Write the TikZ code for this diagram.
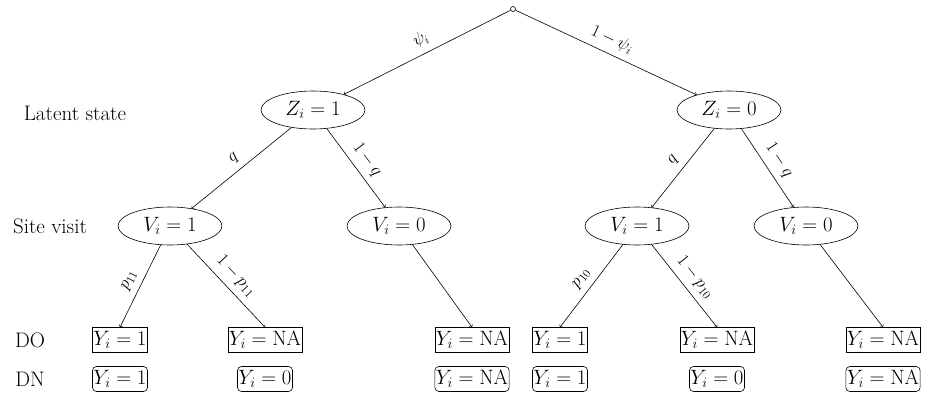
\documentclass[tikz,border=0pt]{standalone}
\usetikzlibrary{shapes.geometric}
\begin{document}
\begin{tikzpicture}[x=1pt,y=-1pt,line width=0.6pt,
  every node/.style={font=\fontsize{21}{24}\selectfont},
  st/.style={draw,ellipse,minimum width=104pt,minimum height=38pt,inner sep=0pt},
  dobox/.style={draw,inner sep=1pt,minimum height=25pt},
  dnbox/.style={draw,rounded corners=4pt,inner sep=1pt,minimum height=25pt},
  ed/.style={->,>=to},
  lb/.style={sloped,above=3pt,font=\fontsize{18}{21}\selectfont}]
\useasboundingbox (0,0) rectangle (941,402);
\node[draw,circle,inner sep=0pt,minimum size=5pt] (r) at (513,9) {};
\node[st] (z1) at (313,110) {$Z_i=1$};
\node[st] (z0) at (729,110) {$Z_i=0$};
\node[st] (v11) at (170,226) {$V_i=1$};
\node[st] (v10) at (399,226) {$V_i=0$};
\node[st] (v01) at (637,226) {$V_i=1$};
\node[st] (v00) at (806,226) {$V_i=0$};
\node (l1) at (75,113) {Latent state};
\node (l2) at (50,226) {Site visit};
\node (l3) at (30,340) {DO};
\node (l4) at (30,379) {DN};
\foreach \n/\x/\t/\u in {a/120/1/1,b/265/\mathrm{NA}/0,c/472/\mathrm{NA}/\mathrm{NA},d/560/1/1,e/717/\mathrm{NA}/0,f/883/\mathrm{NA}/\mathrm{NA}}{
  \node[dobox] (o\n) at (\x,340) {$Y_i=\t$};
  \node[dnbox] (n\n) at (\x,379) {$Y_i=\u$};
}
\draw[ed] (r) -- node[lb]{$\psi_i$} (z1);
\draw[ed] (r) -- node[lb]{$1-\psi_i$} (z0);
\draw[ed] (z1) -- node[lb]{$q$} (v11);
\draw[ed] (z1) -- node[lb]{$1-q$} (v10);
\draw[ed] (z0) -- node[lb]{$q$} (v01);
\draw[ed] (z0) -- node[lb]{$1-q$} (v00);
\draw[ed] (v11) -- node[lb]{$p_{11}$} (oa.north);
\draw[ed] (v11) -- node[lb]{$1-p_{11}$} (ob.north);
\draw[ed] (v10) -- (oc.north);
\draw[ed] (v01) -- node[lb]{$p_{10}$} (od.north);
\draw[ed] (v01) -- node[lb]{$1-p_{10}$} (oe.north);
\draw[ed] (v00) -- (of.north);
\end{tikzpicture}
\end{document}
